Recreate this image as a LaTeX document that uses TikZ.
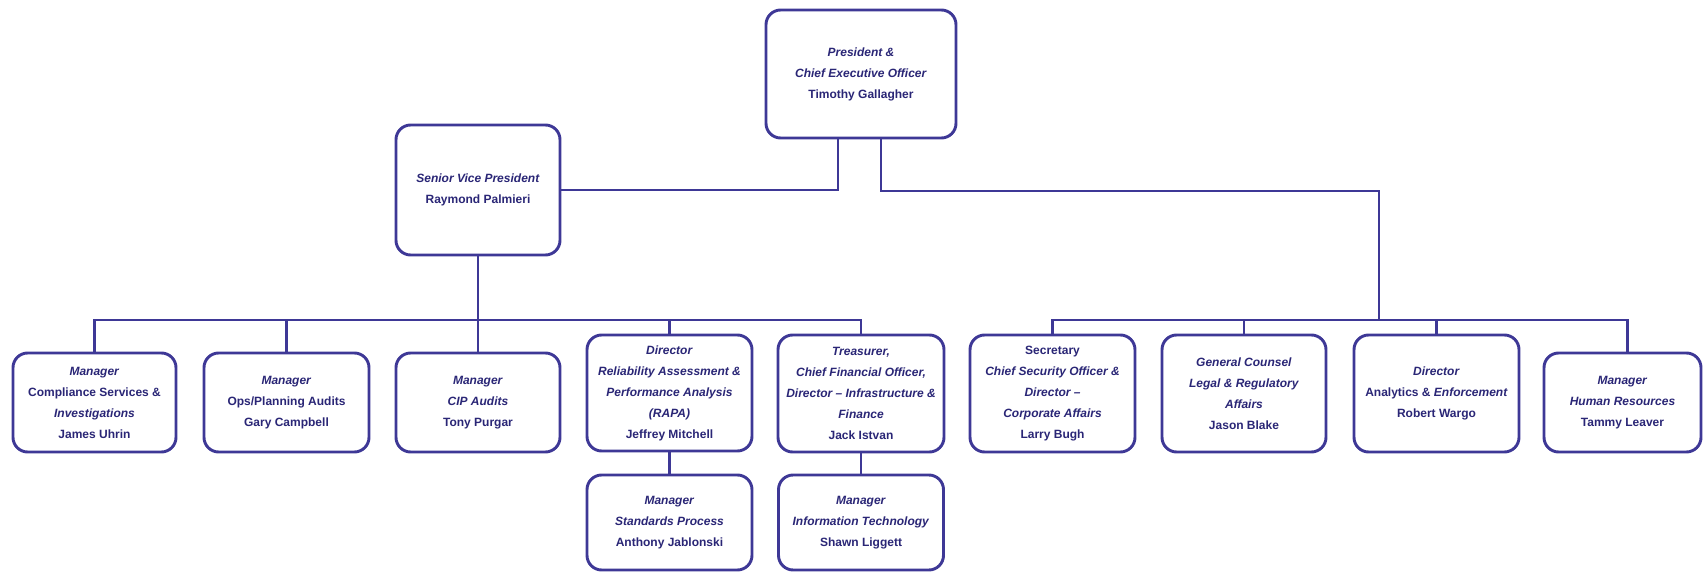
\documentclass[tikz,border=0pt]{standalone}
\usepackage{fontspec}
\setmainfont{Liberation Sans}
\definecolor{linecol}{RGB}{62,56,150}
\definecolor{textcol}{RGB}{42,38,118}
\tikzset{
  orgbox/.style={draw=linecol, line width=2.2pt, rounded corners=11pt,
    fill=white, inner sep=0pt, align=center, text=textcol,
    font=\fontsize{9}{15.75}\selectfont\bfseries},
  conn/.style={draw=linecol, line width=2.2pt},
}
% one org-chart box: name, centre x, centre y, width, height, text (units are pixels)
\newcommand\orgbox[6]{%
  \node[orgbox, minimum width=#4*0.75pt, minimum height=#5*0.75pt] (#1) at (#2,#3) {#6};}
\newcommand\ttl[1]{\textit{#1}}
\begin{document}
\begin{tikzpicture}[x={(0.75pt,0)}, y={(0,-0.75pt)}]
\useasboundingbox (0,0) rectangle (1703,574);

% top levels
\orgbox{ceo}{861}{74}{190}{128}{\ttl{President \&}\\ \ttl{Chief Executive Officer}\\ Timothy Gallagher}
\orgbox{svp}{478}{190}{164}{130}{\ttl{Senior Vice President}\\ Raymond Palmieri}

% bus lines and the bend of the right-hand branch
\coordinate (bus) at (0,320);
\coordinate (rturn) at (1379,191);
\coordinate (rdrop) at (1379,320);

% left group
\orgbox{comp}{94.5}{402.5}{163}{99}{\ttl{Manager}\\ Compliance Services \&\\ \ttl{Investigations}\\ James Uhrin}
\orgbox{ops}{286.5}{402.5}{165}{99}{\ttl{Manager}\\ Ops/Planning Audits\\ Gary Campbell}
\orgbox{cip}{478}{402.5}{164}{99}{\ttl{Manager}\\ \ttl{CIP Audits}\\ Tony Purgar}
\orgbox{rapa}{669.5}{393}{165}{116}{\ttl{Director}\\ \ttl{Reliability Assessment \&}\\ \ttl{Performance Analysis}\\ \ttl{(RAPA)}\\ Jeffrey Mitchell}
\orgbox{treas}{861}{393.5}{166}{117}{\ttl{Treasurer,}\\ \ttl{Chief Financial Officer,}\\ \ttl{Director -- Infrastructure \&}\\ \ttl{Finance}\\ Jack Istvan}

% right group
\orgbox{sec}{1052.5}{393.5}{165}{117}{Secretary\\ \ttl{Chief Security Officer \&}\\ \ttl{Director --}\\ \ttl{Corporate Affairs}\\ Larry Bugh}
\orgbox{gc}{1244}{393.5}{164}{117}{\ttl{General Counsel}\\ \ttl{Legal \& Regulatory}\\ \ttl{Affairs}\\ Jason Blake}
\orgbox{ana}{1436.5}{393.5}{165}{117}{\ttl{Director}\\ Analytics \& \ttl{Enforcement}\\ Robert Wargo}
\orgbox{hr}{1622.5}{402.5}{157}{99}{\ttl{Manager}\\ \ttl{Human Resources}\\ Tammy Leaver}

% third level
\orgbox{std}{669.5}{522.5}{165}{95}{\ttl{Manager}\\ \ttl{Standards Process}\\ Anthony Jablonski}
\orgbox{it}{861}{522.5}{165}{95}{\ttl{Manager}\\ \ttl{Information Technology}\\ Shawn Liggett}

% connectors
\draw[conn] ([xshift=-17.25pt]ceo.south) |- (svp.east);
\draw[conn] ([xshift=15pt]ceo.south) |- (rturn) -- (rdrop);
\draw[conn] (svp.south) -- (svp.south |- bus);
\draw[conn] (comp.north) -- (comp.north |- bus) -- (treas.north |- bus) -- (treas.north);
\foreach \n in {ops,cip,rapa} \draw[conn] (\n.north) -- (\n.north |- bus);
\draw[conn] (sec.north) -- (sec.north |- bus) -- ([xshift=4pt]hr.north |- bus) -- ([xshift=4pt]hr.north);
\foreach \n in {gc,ana} \draw[conn] (\n.north) -- (\n.north |- bus);
\draw[conn] (rapa.south) -- (std.north);
\draw[conn] (treas.south) -- (it.north);
\end{tikzpicture}
\end{document}
